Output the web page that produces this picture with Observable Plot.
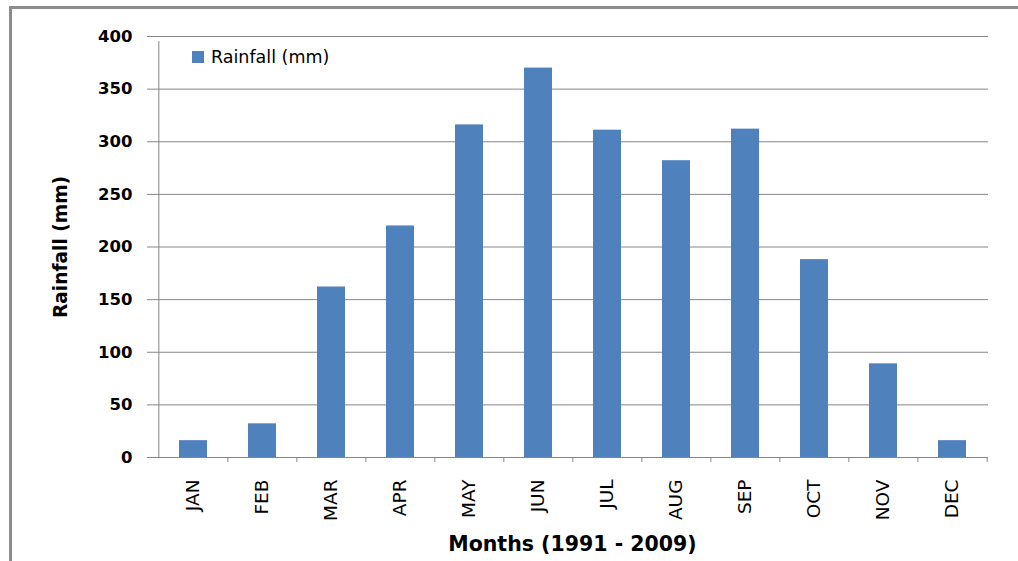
<!DOCTYPE html>
<html>
<head>
<meta charset="utf-8">
<script src="https://cdn.jsdelivr.net/npm/d3@7"></script>
<script src="https://cdn.jsdelivr.net/npm/@observablehq/plot@0.6"></script>
<style>
  html, body { margin: 0; padding: 0; background: #fff; overflow: hidden; }
  #wrap { position: relative; width: 1018px; height: 561px; font-family: "DejaVu Sans", sans-serif; }
  #frame { position: absolute; left: 9px; top: 6px; width: 1009px; height: 560px;
           border-top: 3px solid #8c8c8c; border-left: 3px solid #8c8c8c; box-sizing: border-box; }
  #legend { position: absolute; left: 192px; top: 47px; display: flex; align-items: center; font-size: 17.5px; color: #000; }
  #legend .sw { width: 12px; height: 12px; background: #4f81bd; margin-right: 7px; }
  #chart { position: absolute; left: 0; top: 0; }
</style>
</head>
<body>
<div id="wrap">
  <div id="frame"></div>
  <div id="chart"></div>
  <div id="legend"><div class="sw"></div><span>Rainfall (mm)</span></div>
</div>
<script>
const months = ["JAN","FEB","MAR","APR","MAY","JUN","JUL","AUG","SEP","OCT","NOV","DEC"];
const rainfall = [16, 32, 162, 220, 316, 370, 311, 282, 312, 188, 89, 16];
const yTicks = [0, 50, 100, 150, 200, 250, 300, 350, 400];
const xTitle = "Months (1991 - 2009)";
const yTitle = "Rainfall (mm)";

const data = months.map((m, i) => ({month: m, value: rainfall[i]}));

const W = 1018, H = 561, ML = 156, MR = 30, MT = 36, MB = 104;
const step = (W - ML - MR) / months.length;
const grid = "#868686";

const chart = Plot.plot({
  width: W, height: H,
  marginLeft: ML, marginRight: MR, marginTop: MT, marginBottom: MB,
  style: {fontFamily: "'DejaVu Sans', sans-serif", background: "transparent", color: "#000", overflow: "visible"},
  x: {domain: months, paddingInner: 0.6, paddingOuter: 0.3},
  y: {domain: [0, 400]},
  marks: [
    Plot.gridY(yTicks, {stroke: grid, strokeOpacity: 1, strokeWidth: 1}),
    Plot.barY(data, {x: "month", y: "value", fill: "#4f81bd"}),
    Plot.ruleX([months[0]], {x: d => d, y1: 0, y2: 400, dx: -step / 2, insetBottom: -5, stroke: grid}),
    Plot.ruleX(months.slice(1), {x: d => d, y1: 0, y2: 0, dx: -step / 2, insetBottom: -5, stroke: grid}),
    Plot.ruleX([months[months.length - 1]], {x: d => d, y1: 0, y2: 0, dx: step / 2, insetBottom: -5, stroke: grid}),
    Plot.axisY(yTicks, {tickSize: 9, tickPadding: 15, fontSize: 16.5, fontWeight: "bold", stroke: grid, fill: "#000", label: null}),
    Plot.axisX({tickRotate: -90, tickSize: 0, tickPadding: 22, fontSize: 18.5, fill: "#000", label: null}),
    Plot.text([xTitle], {frameAnchor: "bottom", textAnchor: "middle", lineAnchor: "middle", dy: 87, fontSize: 20.5, fontWeight: "bold", fill: "#000"}),
    Plot.text([yTitle], {frameAnchor: "left", textAnchor: "middle", lineAnchor: "middle", dx: -95, rotate: -90, fontSize: 18.6, fontWeight: "bold", fill: "#000"})
  ]
});
document.getElementById("chart").appendChild(chart);
</script>
</body>
</html>
